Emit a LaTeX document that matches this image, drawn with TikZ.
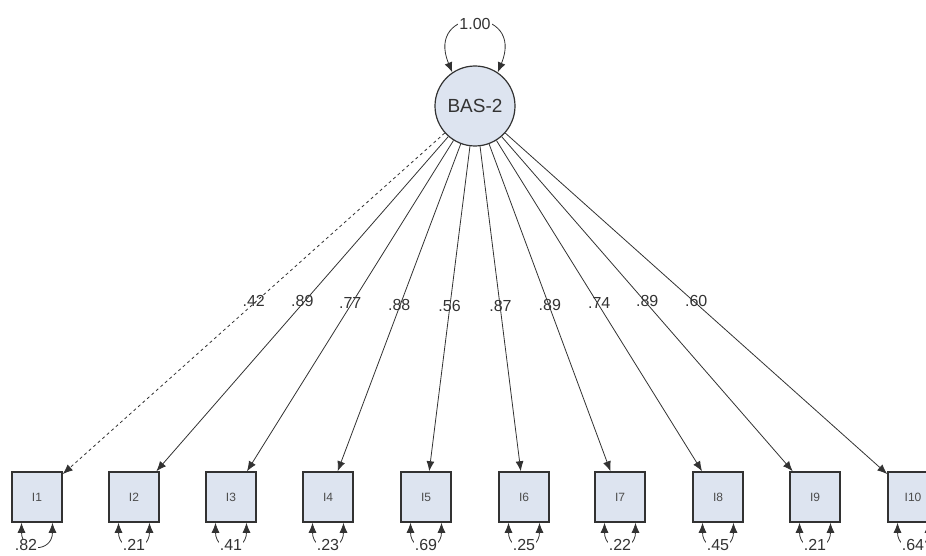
\documentclass[tikz,border=0pt]{standalone}
\usepackage{fontspec}
\setmainfont{Liberation Sans}
\usetikzlibrary{arrows.meta}
\definecolor{node_blue}{RGB}{221,228,240}
\definecolor{edge_gray}{RGB}{50,50,50}

\begin{document}
\begin{tikzpicture}[x=1pt,y=-1pt,->,>={Latex[length=10pt,width=8pt]},line width=0.8pt]
    \tikzstyle{loading}=[text=black!80,font=\fontsize{16}{18}\selectfont,inner sep=1pt]
    \tikzstyle{errvar}=[style=loading,fill=white]
    \tikzstyle{latent}=[draw=edge_gray,line width=1.2pt,circle,minimum size=80pt,inner sep=0pt,fill=node_blue,text=black!80,font=\fontsize{19}{22}\selectfont]
    \tikzstyle{item}=[draw=edge_gray,line width=1.5pt,rectangle,minimum size=50pt,inner sep=0pt,fill=node_blue,text=black!70,font=\fontsize{12}{14}\selectfont]

    \path[use as bounding box,clip] (0,0) rectangle (926,556);

    \node[latent] (B)   at (475,106) {BAS-2};
    \node[item]   (I1)  at (37,497)  {I1};
    \node[item]   (I2)  at (134,497) {I2};
    \node[item]   (I3)  at (231,497) {I3};
    \node[item]   (I4)  at (328,497) {I4};
    \node[item]   (I5)  at (426,497) {I5};
    \node[item]   (I6)  at (524,497) {I6};
    \node[item]   (I7)  at (620,497) {I7};
    \node[item]   (I8)  at (718,497) {I8};
    \node[item]   (I9)  at (815,497) {I9};
    \node[item]   (I10) at (913,497) {I10};

    % variance of the factor
    \draw[<->,edge_gray] (B.124) .. controls +(-28,-67) and +(28,-67) .. (B.56)
      node[errvar,pos=0.5,yshift=-2pt] {1.00};

    % loadings
    \path[every node/.style={loading,yshift=2.5pt}]
     (B) edge[edge_gray,dashed] node {.42} (I1)
     (B) edge[edge_gray] node {.89} (I2)
     (B) edge[edge_gray] node {.77} (I3)
     (B) edge[edge_gray] node {.88} (I4)
     (B) edge[edge_gray] node {.56} (I5)
     (B) edge[edge_gray] node {.87} (I6)
     (B) edge[edge_gray] node {.89} (I7)
     (B) edge[edge_gray] node {.74} (I8)
     (B) edge[edge_gray] node {.89} (I9)
     (B) edge[edge_gray] node {.60} (I10);

    % error variances
    \draw[<->,edge_gray] (I1.-121) .. controls +(0,30) and +(0,30) .. (I1.-59) node[errvar,pos=0.5,xshift=-11pt] {.82};
    \draw[<->,edge_gray] (I2.-121) .. controls +(0,30) and +(0,30) .. (I2.-59) node[errvar,pos=0.5] {.21};
    \draw[<->,edge_gray] (I3.-121) .. controls +(0,30) and +(0,30) .. (I3.-59) node[errvar,pos=0.5] {.41};
    \draw[<->,edge_gray] (I4.-121) .. controls +(0,30) and +(0,30) .. (I4.-59) node[errvar,pos=0.5] {.23};
    \draw[<->,edge_gray] (I5.-121) .. controls +(0,30) and +(0,30) .. (I5.-59) node[errvar,pos=0.5] {.69};
    \draw[<->,edge_gray] (I6.-121) .. controls +(0,30) and +(0,30) .. (I6.-59) node[errvar,pos=0.5] {.25};
    \draw[<->,edge_gray] (I7.-121) .. controls +(0,30) and +(0,30) .. (I7.-59) node[errvar,pos=0.5] {.22};
    \draw[<->,edge_gray] (I8.-121) .. controls +(0,30) and +(0,30) .. (I8.-59) node[errvar,pos=0.5] {.45};
    \draw[<->,edge_gray] (I9.-121) .. controls +(0,30) and +(0,30) .. (I9.-59) node[errvar,pos=0.5] {.21};
    \draw[<->,edge_gray] (I10.-121) .. controls +(0,30) and +(0,30) .. (I10.-59) node[errvar,pos=0.5] {.64};
\end{tikzpicture}
\end{document}
